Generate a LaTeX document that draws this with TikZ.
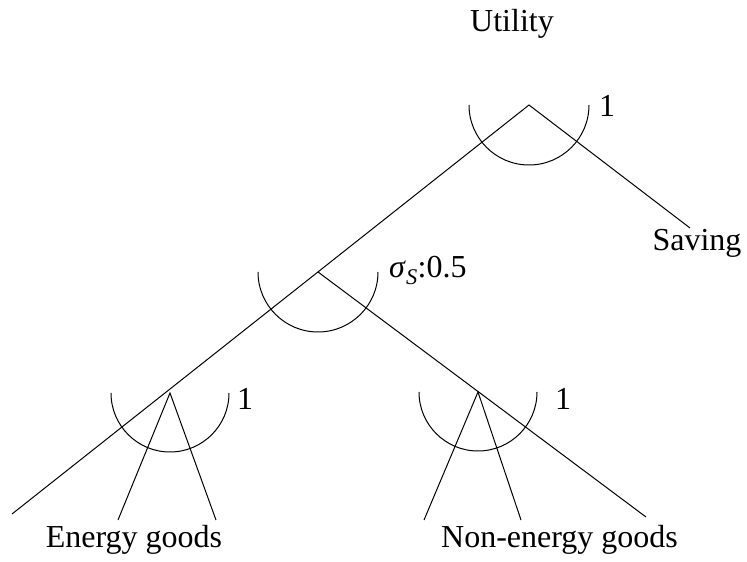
\documentclass[tikz,border=0pt]{standalone}
\usepackage{fontspec}
\setmainfont{Liberation Serif}
\begin{document}
\begin{tikzpicture}[x=1pt,y=1pt,
  branch/.style={line width=1pt},
  nestarc/.style={line width=1pt},
  lbl/.style={inner sep=0pt,font=\fontsize{32}{37}\selectfont}]
\useasboundingbox (0,0) rectangle (747,562);
% nest points
\coordinate (T) at (529,457);
\coordinate (M) at (318,290);
\coordinate (L) at (170,169);
\coordinate (R) at (478,170);
% free ends
\coordinate (TL) at (12,48);
\coordinate (TS) at (690,334);
\coordinate (MR) at (646,45);
\coordinate (L1) at (118,42);
\coordinate (L2) at (216,42);
\coordinate (R1) at (424,42);
\coordinate (R2) at (521,42);
% branches
\draw[branch] (TL) -- (T) -- (TS);
\draw[branch] (M) -- (MR);
\draw[branch] (L1) -- (L) -- (L2);
\draw[branch] (R1) -- (R) -- (R2);
% arcs
\draw[nestarc] ([xshift=-60pt]T) arc[start angle=180,end angle=360,radius=60];
\draw[nestarc] ([xshift=-60pt]M) arc[start angle=180,end angle=360,radius=60];
\draw[nestarc] ([xshift=-59pt]L) arc[start angle=180,end angle=360,radius=59];
\draw[nestarc] ([xshift=-59pt]R) arc[start angle=180,end angle=360,radius=59];
% labels
\node[lbl,anchor=base] (utility) at (512,530) {Utility};
\node[lbl,anchor=base] (saving) at (697,311) {Saving};
\node[lbl,anchor=base] (e1) at (607,445) {1};
\node[lbl,anchor=base west] (es) at (389,284) {\textit{σ}\textsubscript{\textit{S}}:0.5};
\node[lbl,anchor=base] (e2) at (245,152) {1};
\node[lbl,anchor=base] (e3) at (563,152) {1};
\node[lbl,anchor=base] (energy) at (134,14) {Energy goods};
\node[lbl,anchor=base west] (nonenergy) at (441,14) {Non-energy goods};
\end{tikzpicture}
\end{document}
